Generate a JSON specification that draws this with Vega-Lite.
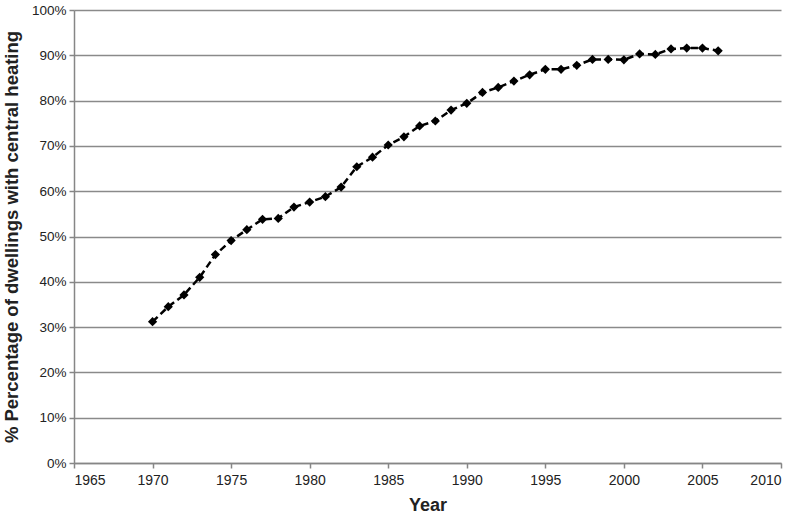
{
  "$schema": "https://vega.github.io/schema/vega-lite/v6.json",
  "autosize": {"type": "none"},
  "width": 707,
  "height": 453,
  "padding": {"left": 74, "top": 10, "right": 19, "bottom": 57},
  "background": "white",
  "config": {
    "view": {"stroke": null},
    "font": "Liberation Sans",
    "axis": {"labelFont": "Liberation Sans Narrow, Liberation Sans", "titleFont": "Liberation Sans"}
  },
  "data": {
    "values": [
      {"year": 1970, "pct": 31.2},
      {"year": 1971, "pct": 34.5},
      {"year": 1972, "pct": 37.1},
      {"year": 1973, "pct": 41.0},
      {"year": 1974, "pct": 46.0},
      {"year": 1975, "pct": 49.1},
      {"year": 1976, "pct": 51.5},
      {"year": 1977, "pct": 53.8},
      {"year": 1978, "pct": 54.0},
      {"year": 1979, "pct": 56.5},
      {"year": 1980, "pct": 57.6},
      {"year": 1981, "pct": 58.8},
      {"year": 1982, "pct": 60.9},
      {"year": 1983, "pct": 65.4},
      {"year": 1984, "pct": 67.5},
      {"year": 1985, "pct": 70.2},
      {"year": 1986, "pct": 72.0},
      {"year": 1987, "pct": 74.4},
      {"year": 1988, "pct": 75.5},
      {"year": 1989, "pct": 77.9},
      {"year": 1990, "pct": 79.4},
      {"year": 1991, "pct": 81.8},
      {"year": 1992, "pct": 82.9},
      {"year": 1993, "pct": 84.3},
      {"year": 1994, "pct": 85.7},
      {"year": 1995, "pct": 86.9},
      {"year": 1996, "pct": 86.9},
      {"year": 1997, "pct": 87.8},
      {"year": 1998, "pct": 89.1},
      {"year": 1999, "pct": 89.1},
      {"year": 2000, "pct": 89.0},
      {"year": 2001, "pct": 90.3},
      {"year": 2002, "pct": 90.2},
      {"year": 2003, "pct": 91.4},
      {"year": 2004, "pct": 91.6},
      {"year": 2005, "pct": 91.6},
      {"year": 2006, "pct": 91.0}
    ]
  },
  "encoding": {
    "x": {
      "field": "year",
      "type": "quantitative",
      "scale": {"domain": [1965, 2010], "nice": false, "zero": false},
      "axis": {
        "title": "Year",
        "titleFontSize": 18,
        "titleFontWeight": "bold",
        "titleColor": "#222",
        "titlePadding": 9,
        "values": [1965, 1970, 1975, 1980, 1985, 1990, 1995, 2000, 2005, 2010],
        "format": "d",
        "labelFontSize": 14,
        "labelColor": "#222",
        "labelPadding": 5,
        "grid": false,
        "domainColor": "#868686",
        "domainWidth": 1.5,
        "tickColor": "#868686",
        "tickSize": 5,
        "tickWidth": 1.5
      }
    },
    "y": {
      "field": "pct",
      "type": "quantitative",
      "scale": {"domain": [0, 100], "nice": false},
      "axis": {
        "title": "% Percentage of dwellings with central heating",
        "titleFontSize": 18.5,
        "titleFontWeight": "bold",
        "titleColor": "#222",
        "titlePadding": 10,
        "values": [0, 10, 20, 30, 40, 50, 60, 70, 80, 90, 100],
        "labelExpr": "datum.value + '%'",
        "labelFontSize": 13.5,
        "labelColor": "#222",
        "labelPadding": 3,
        "grid": true,
        "gridColor": "#8a8a8a",
        "gridWidth": 1.5,
        "domainColor": "#868686",
        "domainWidth": 1.5,
        "tickColor": "#868686",
        "tickSize": 5,
        "tickWidth": 1.5
      }
    }
  },
  "layer": [
    {
      "mark": {"type": "line", "color": "black", "strokeWidth": 2.5, "strokeDash": [7, 4]}
    },
    {
      "mark": {"type": "point", "shape": "diamond", "filled": true, "color": "black", "opacity": 1, "size": 85}
    }
  ]
}
